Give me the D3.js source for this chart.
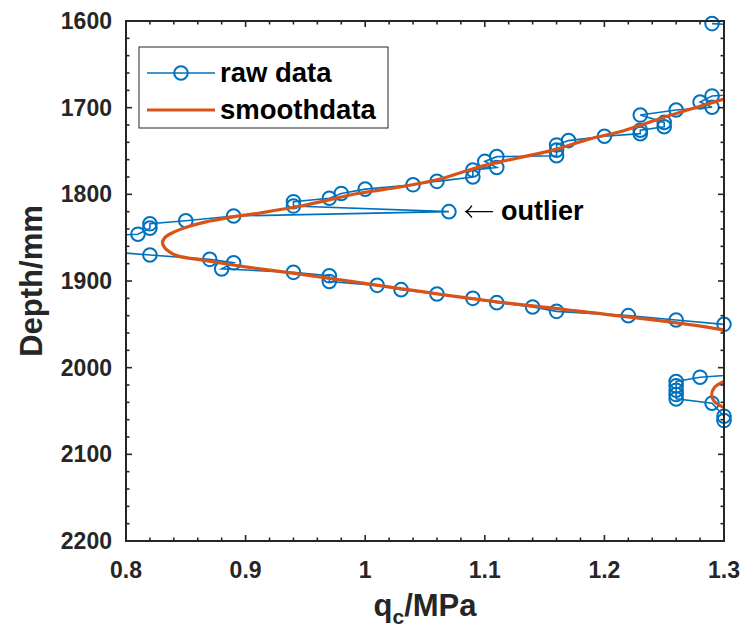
<!DOCTYPE html>
<html><head><meta charset="utf-8">
<script src="https://cdn.jsdelivr.net/npm/d3@7"></script>
<style>body{margin:0;background:#fff}svg{display:block}text{font-family:"Liberation Sans",Arial,sans-serif}</style>
</head><body>
<svg id="c" width="745" height="635"></svg>
<script>
// raw data (depth in mm, qc in MPa); values beyond 1.3 / below 0.8 are clipped off-axis
const rawDepth = [1603,1620,1670,1686.5,1693.5,1699.5,1702.7,1708.5,1717,1722,1726,1730,1733,1738,1743,1749,1755.5,1756.5,1762,1769,1772,1780,1785,1789,1794,1799,1804.5,1808.5,1813.5,1820,1825,1830.5,1834,1839,1846,1855,1870,1875,1879,1886,1890,1894,1900.5,1905,1910,1915,1920,1925,1930,1935,1940,1945,1950,1980,1995,2011,2016,2021,2026,2031,2036,2041,2056,2061];
const rawQc    = [1.29,1.50,1.50,1.29,1.28,1.29,1.26,1.23,1.25,1.25,1.23,1.23,1.20,1.17,1.16,1.16,1.16,1.11,1.10,1.11,1.09,1.09,1.06,1.04,1.00,0.98,0.97,0.94,0.94,1.07,0.89,0.85,0.82,0.82,0.81,0.68,0.82,0.87,0.89,0.88,0.94,0.97,0.97,1.01,1.03,1.06,1.09,1.11,1.14,1.16,1.22,1.26,1.30,1.45,1.45,1.28,1.26,1.26,1.26,1.26,1.26,1.29,1.30,1.30];
// smoothed curve
const smoothDepth = [1665,1690,1711,1727.7,1736,1749,1766,1775.4,1783.5,1791.5,1798.5,1813.5,1821.5,1826,1832,1837.7,1844.6,1850,1856,1862,1867,1871,1876,1881.5,1886,1892,1907,1923,1933.4,1956.5,1975,2000,2016,2023,2031.5,2039,2046,2060];
const smoothQc    = [1.36,1.30,1.25,1.213,1.188,1.157,1.102,1.079,1.059,1.029,0.996,0.946,0.912,0.8895,0.866,0.851,0.8385,0.8325,0.8305,0.8325,0.837,0.843,0.8644,0.8895,0.912,0.9455,1.021,1.104,1.169,1.30,1.35,1.34,1.30,1.292,1.2897,1.292,1.30,1.33];
const xTicks = [0.8,0.9,1.0,1.1,1.2,1.3];
const xTickLabels = ["0.8","0.9","1","1.1","1.2","1.3"];
const yTicks = [1600,1700,1800,1900,2000,2100,2200];
const legendLabels = ["raw data","smoothdata"];
const annotation = {qc:1.07, depth:1820, text:"outlier"};

const blue = "#0072BD", orange = "#D95319", axisCol = "#262626";
const L = 126, R = 724, T = 21, B = 541;
const svg = d3.select("#c");
const x = d3.scaleLinear().domain([0.8,1.3]).range([L,R]);
const y = d3.scaleLinear().domain([1600,2200]).range([T,B]);

svg.append("defs").append("clipPath").attr("id","clip")
  .append("rect").attr("x",L).attr("y",T).attr("width",R-L).attr("height",B-T);

const rawPts = rawDepth.map((d,i)=>({d, q:rawQc[i]}));
const smPts = smoothDepth.map((d,i)=>({d, q:smoothQc[i]}));

const g = svg.append("g");
g.append("path").attr("clip-path","url(#clip)")
  .datum(rawPts)
  .attr("d", d3.line().x(p=>x(p.q)).y(p=>y(p.d)))
  .attr("fill","none").attr("stroke",blue).attr("stroke-width",1.6);
g.selectAll("circle.m").data(rawPts.filter(p=>p.q>=0.8-1e-9&&p.q<=1.3+1e-9&&p.d>=1600&&p.d<=2200))
  .enter().append("circle").attr("class","m")
  .attr("cx",p=>x(p.q)).attr("cy",p=>y(p.d)).attr("r",6.8)
  .attr("fill","none").attr("stroke",blue).attr("stroke-width",2);
g.append("path").attr("clip-path","url(#clip)")
  .datum(smPts)
  .attr("d", d3.line().curve(d3.curveCatmullRom.alpha(0.5)).x(p=>x(p.q)).y(p=>y(p.d)))
  .attr("fill","none").attr("stroke",orange).attr("stroke-width",3.2);

// axes box and ticks
const ax = svg.append("g");
const minorX = d3.range(0.8,1.3001,0.02);
const minorY = d3.range(1600,2200.1,20);
function tick(x1,y1,x2,y2){ax.append("line").attr("x1",x1).attr("y1",y1).attr("x2",x2).attr("y2",y2).attr("stroke",axisCol).attr("stroke-width",1.6);}
minorX.forEach(v=>{const px=x(v); const major=xTicks.some(t=>Math.abs(t-v)<1e-6); const len=major?6:3.5; tick(px,B,px,B-len); tick(px,T,px,T+len);});
minorY.forEach(v=>{const py=y(v); const major=yTicks.some(t=>Math.abs(t-v)<1e-6); const len=major?6:3.5; tick(L,py,L+len,py); tick(R,py,R-len,py);});
ax.append("rect").attr("x",L).attr("y",T).attr("width",R-L).attr("height",B-T)
  .attr("fill","none").attr("stroke",axisCol).attr("stroke-width",2);

// tick labels
xTicks.forEach((v,i)=>{svg.append("text").attr("x",x(v)).attr("y",578).attr("text-anchor","middle")
  .attr("font-size",23).attr("font-weight","bold").attr("fill",axisCol).text(xTickLabels[i]);});
yTicks.forEach(v=>{svg.append("text").attr("x",112).attr("y",y(v)+8).attr("text-anchor","end")
  .attr("font-size",23).attr("font-weight","bold").attr("fill",axisCol).text(String(v));});

// axis labels
const xl = svg.append("text").attr("x",425).attr("y",616).attr("text-anchor","middle")
  .attr("font-size",31).attr("font-weight","bold").attr("fill",axisCol);
xl.append("tspan").text("q");
xl.append("tspan").attr("font-size",21).attr("dy",8).text("c");
xl.append("tspan").attr("dy",-8).text("/MPa");
svg.append("text").attr("transform","translate(42,281) rotate(-90)").attr("text-anchor","middle")
  .attr("font-size",31).attr("font-weight","bold").attr("fill",axisCol).text("Depth/mm");

// legend
const lg = svg.append("g");
lg.append("rect").attr("x",139).attr("y",47).attr("width",249).attr("height",81)
  .attr("fill","#fff").attr("stroke",axisCol).attr("stroke-width",1);
lg.append("line").attr("x1",147).attr("x2",215).attr("y1",73).attr("y2",73).attr("stroke",blue).attr("stroke-width",1.6);
lg.append("circle").attr("cx",181).attr("cy",73).attr("r",6.8).attr("fill","none").attr("stroke",blue).attr("stroke-width",2);
lg.append("line").attr("x1",147).attr("x2",215).attr("y1",110).attr("y2",110).attr("stroke",orange).attr("stroke-width",3.2);
legendLabels.forEach((t,i)=>{lg.append("text").attr("x",220).attr("y",[82,119][i])
  .attr("font-size",27.5).attr("font-weight","bold").attr("fill","#000").text(t);});

// annotation: thin left arrow + bold text
const ax0 = x(annotation.qc)+17, ay = y(annotation.depth);
svg.append("path")
  .attr("d",`M${ax0+27},${ay} L${ax0},${ay} M${ax0+6},${ay-6} Q${ax0+3},${ay-1.5} ${ax0},${ay} Q${ax0+3},${ay+1.5} ${ax0+6},${ay+6}`)
  .attr("fill","none").attr("stroke","#000").attr("stroke-width",1.3);
svg.append("text").attr("x",x(annotation.qc)+52).attr("y",ay+8)
  .attr("font-size",27).attr("font-weight","bold").attr("fill","#000").text(annotation.text);
</script>
</body></html>
